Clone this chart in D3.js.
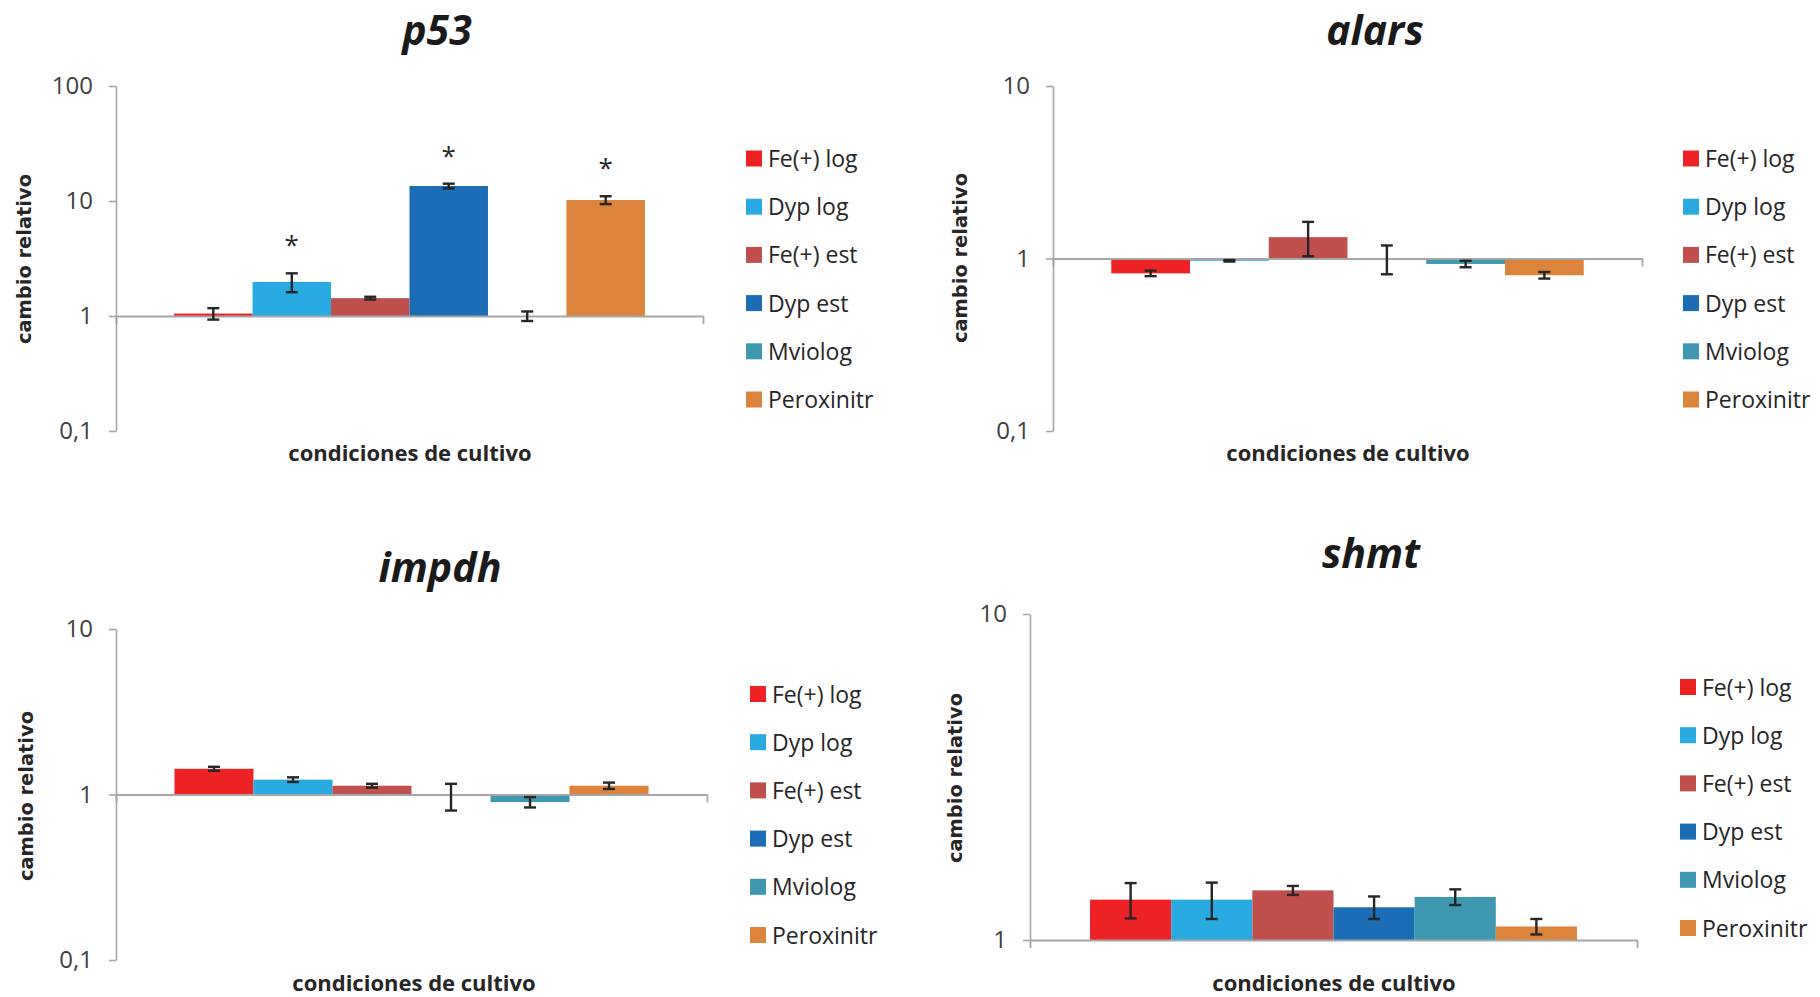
<!DOCTYPE html>
<html>
<head>
<meta charset="utf-8">
<script src="https://cdn.jsdelivr.net/npm/d3@7/dist/d3.min.js"></script>
<style>
  html, body { margin: 0; padding: 0; background: #ffffff; }
  svg { display: block; }
</style>
</head>
<body>
<svg id="chart" width="1820" height="997"></svg>
<script>
// Culture conditions (one bar each) and their colours
const seriesNames = ["Fe(+) log", "Dyp log", "Fe(+) est", "Dyp est", "Mviolog", "Peroxinitr"];
const seriesColors = ["#ed2224", "#29abe2", "#c0504d", "#1b6eb6", "#3e98b0", "#dc843b"];

// Relative change (fold) per gene, with error bars
const p53Values = [1.05, 1.98, 1.43, 13.5, 1.0, 10.2];
const p53Errors = [0.12, 0.37, 0.04, 0.65, 0.095, 0.8];
const p53Significant = [false, true, false, true, false, true];

const alarsValues = [0.82, 0.97, 1.33, 1.0, 0.93, 0.80];
const alarsErrors = [0.03, 0.01, 0.30, 0.19, 0.04, 0.035];

const impdhValues = [1.43, 1.23, 1.13, 0.98, 0.90, 1.13];
const impdhErrors = [0.04, 0.04, 0.03, 0.18, 0.065, 0.05];

const shmtValues = [1.33, 1.33, 1.42, 1.26, 1.355, 1.10];
const shmtErrors = [0.165, 0.17, 0.045, 0.10, 0.075, 0.06];

// Log-axis ticks
const p53Ticks = [0.1, 1, 10, 100];
const p53TickLabels = ["0,1", "1", "10", "100"];
const tenTicks = [0.1, 1, 10];
const tenTickLabels = ["0,1", "1", "10"];
const shmtTicks = [1, 10];
const shmtTickLabels = ["1", "10"];

const xAxisTitle = "condiciones de cultivo";
const yAxisTitle = "cambio relativo";

const panels = [
  { title: "p53", values: p53Values, errors: p53Errors, marks: p53Significant,
    ticks: p53Ticks, labels: p53TickLabels, domain: [0.1, 100],
    left: 116, right: 703, top: 86, bottom: 431,
    titleX: 437, titleY: 45, xTitleX: 410, xTitleY: 461, yTitleX: 31, yTitleY: 259,
    legendX: 746, legendY: 158.5 },
  { title: "alars", values: alarsValues, errors: alarsErrors, marks: null,
    ticks: tenTicks, labels: tenTickLabels, domain: [0.1, 10],
    left: 1053, right: 1642, top: 86, bottom: 431,
    titleX: 1375, titleY: 45, xTitleX: 1348, xTitleY: 461, yTitleX: 967, yTitleY: 258,
    legendX: 1683, legendY: 158.5 },
  { title: "impdh", values: impdhValues, errors: impdhErrors, marks: null,
    ticks: tenTicks, labels: tenTickLabels, domain: [0.1, 10],
    left: 116, right: 707, top: 629, bottom: 960,
    titleX: 440, titleY: 582, xTitleX: 414, xTitleY: 991, yTitleX: 33, yTitleY: 796,
    legendX: 750, legendY: 694 },
  { title: "shmt", values: shmtValues, errors: shmtErrors, marks: null,
    ticks: shmtTicks, labels: shmtTickLabels, domain: [1, 10],
    left: 1030, right: 1637, top: 614, bottom: 940,
    titleX: 1371, titleY: 568, xTitleX: 1334, xTitleY: 991, yTitleX: 962, yTitleY: 778,
    legendX: 1680, legendY: 687 }
];

const svg = d3.select("#chart");
svg.append("rect").attr("width", 1820).attr("height", 997).attr("fill", "#ffffff");

const axisGray = "#a6a6a6";
const inkDark = "#262626";

function drawPanel(cfg) {
  const g = svg.append("g").attr("class", "panel");
  const y = d3.scaleLog().domain(cfg.domain).range([cfg.bottom, cfg.top]);
  const x = d3.scaleBand().domain(seriesNames).range([cfg.left, cfg.right])
    .paddingInner(0).paddingOuter(0.74);
  const base = 1;
  const rows = seriesNames.map((name, i) => ({
    name, value: cfg.values[i], error: cfg.errors[i], color: seriesColors[i],
    mark: cfg.marks ? cfg.marks[i] : false
  }));

  // Title
  g.append("text")
    .attr("x", cfg.titleX).attr("y", cfg.titleY)
    .attr("text-anchor", "middle")
    .style("font-family", "'Open Sans', sans-serif")
    .style("font-weight", 700).style("font-style", "italic")
    .style("font-size", "41px").attr("fill", "#1a1a1a")
    .text(cfg.title);

  // Bars grow from 1 (up or down)
  g.selectAll("rect.bar").data(rows).join("rect")
    .attr("class", "bar")
    .attr("x", d => x(d.name))
    .attr("width", x.bandwidth())
    .attr("y", d => Math.min(y(d.value), y(base)))
    .attr("height", d => Math.abs(y(d.value) - y(base)))
    .attr("fill", d => d.color);

  // Y axis (log)
  const yAxis = g.append("g")
    .attr("transform", `translate(${cfg.left},0)`)
    .call(d3.axisLeft(y).tickValues(cfg.ticks)
      .tickFormat(d => cfg.labels[cfg.ticks.indexOf(d)])
      .tickSize(7).tickSizeOuter(0).tickPadding(16));
  yAxis.select(".domain").attr("stroke", axisGray).attr("stroke-width", 1.6);
  yAxis.selectAll(".tick line").attr("stroke", axisGray).attr("stroke-width", 1.6);
  yAxis.selectAll(".tick text")
    .style("font-family", "'Open Sans', sans-serif")
    .style("font-size", "24px").attr("fill", "#404040");

  // Category axis crossing at 1
  const xEdge = d3.scaleLinear().domain([0, 1]).range([cfg.left, cfg.right]);
  const xAxis = g.append("g")
    .attr("transform", `translate(0,${y(base)})`)
    .call(d3.axisBottom(xEdge).tickValues([0, 1]).tickFormat("").tickSize(8).tickSizeOuter(0));
  xAxis.select(".domain").attr("stroke", axisGray).attr("stroke-width", 2.2);
  xAxis.selectAll(".tick line").attr("stroke", axisGray).attr("stroke-width", 1.8);

  // Error bars
  const cap = 6;
  const eb = g.selectAll("g.err").data(rows).join("g").attr("class", "err")
    .attr("stroke", inkDark).attr("stroke-width", 2.4);
  eb.append("line")
    .attr("x1", d => x(d.name) + x.bandwidth() / 2).attr("x2", d => x(d.name) + x.bandwidth() / 2)
    .attr("y1", d => y(d.value + d.error)).attr("y2", d => y(d.value - d.error));
  eb.append("line")
    .attr("x1", d => x(d.name) + x.bandwidth() / 2 - cap).attr("x2", d => x(d.name) + x.bandwidth() / 2 + cap)
    .attr("y1", d => y(d.value + d.error)).attr("y2", d => y(d.value + d.error));
  eb.append("line")
    .attr("x1", d => x(d.name) + x.bandwidth() / 2 - cap).attr("x2", d => x(d.name) + x.bandwidth() / 2 + cap)
    .attr("y1", d => y(d.value - d.error)).attr("y2", d => y(d.value - d.error));

  // Significance asterisks
  g.selectAll("text.sig").data(rows.filter(d => d.mark)).join("text")
    .attr("class", "sig")
    .attr("x", d => x(d.name) + x.bandwidth() / 2)
    .attr("y", d => y(d.value + d.error) - 19)
    .attr("text-anchor", "middle")
    .style("font-family", "'Open Sans', sans-serif")
    .style("font-size", "26px").attr("fill", inkDark)
    .text("*");

  // Axis titles
  g.append("text")
    .attr("x", cfg.xTitleX).attr("y", cfg.xTitleY)
    .attr("text-anchor", "middle")
    .style("font-family", "'Open Sans', sans-serif")
    .style("font-weight", 700).style("font-size", "22px")
    .attr("fill", inkDark)
    .text(xAxisTitle);

  g.append("text")
    .attr("transform", `translate(${cfg.yTitleX},${cfg.yTitleY}) rotate(-90)`)
    .attr("text-anchor", "middle")
    .attr("textLength", 170).attr("lengthAdjust", "spacingAndGlyphs")
    .style("font-family", "'DejaVu Sans', sans-serif")
    .style("font-weight", 700).style("font-size", "19.5px")
    .attr("fill", inkDark)
    .text(yAxisTitle);

  // Legend
  const leg = g.selectAll("g.leg").data(rows).join("g").attr("class", "leg")
    .attr("transform", (d, i) => `translate(${cfg.legendX},${cfg.legendY + i * 48.2})`);
  leg.append("rect").attr("x", 0).attr("y", -8).attr("width", 16).attr("height", 16)
    .attr("fill", d => d.color);
  leg.append("text").attr("x", 22).attr("y", 8.5)
    .style("font-family", "'Open Sans', sans-serif")
    .style("font-size", "23px").attr("fill", inkDark)
    .text(d => d.name);
}

panels.forEach(drawPanel);
</script>
</body>
</html>
